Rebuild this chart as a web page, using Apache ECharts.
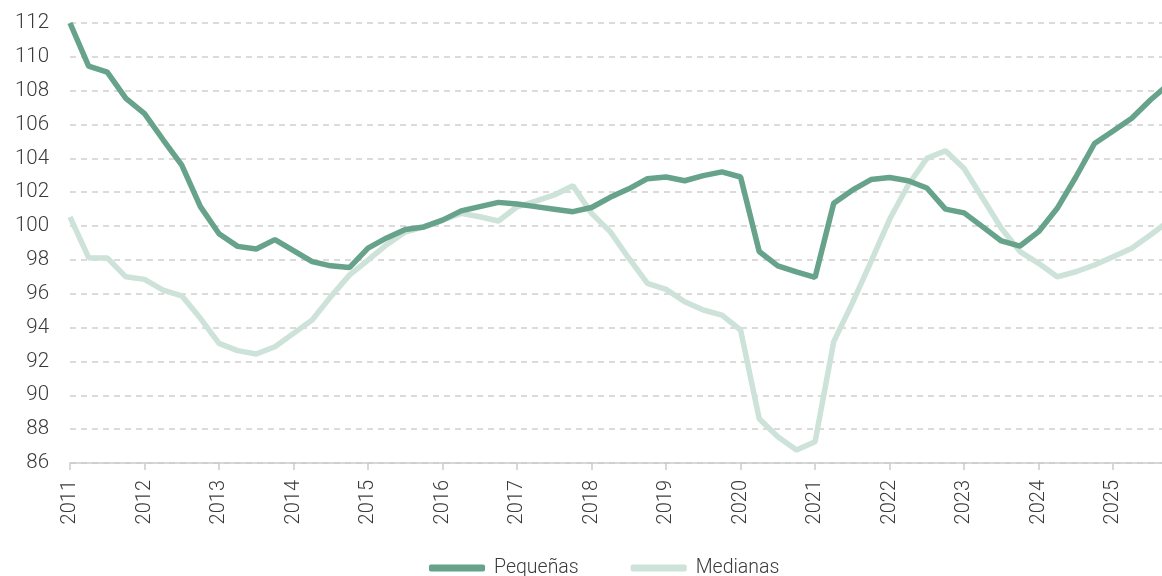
<!DOCTYPE html>
<html>
<head>
<meta charset="utf-8">
<script src="https://cdn.jsdelivr.net/npm/echarts@6/dist/echarts.min.js"></script>
<style>
  html, body { margin: 0; padding: 0; overflow: hidden; background: #fff; }
  #chart { width: 1175px; height: 576px; }
</style>
</head>
<body>
<div id="chart"></div>
<script>
// trimestres 2011-T1 .. 2025-T4
var years = ["2011", "2012", "2013", "2014", "2015", "2016", "2017", "2018",
  "2019", "2020", "2021", "2022", "2023", "2024", "2025"];
var quarters = [];
years.forEach(function (y) {
  ["T1", "T2", "T3", "T4"].forEach(function (q) { quarters.push(y + "-" + q); });
});

var pequenas = [
  112.0, 109.45, 109.1, 107.55,
  106.65, 105.1, 103.6, 101.15,
  99.55, 98.8, 98.65, 99.2,
  98.55, 97.9, 97.65, 97.55,
  98.7, 99.3, 99.8, 99.95,
  100.35, 100.9, 101.15, 101.4,
  101.3, 101.15, 101.0, 100.85,
  101.1, 101.7, 102.2, 102.8,
  102.9, 102.68, 102.98, 103.2,
  102.9, 98.5, 97.65, 97.3,
  96.97, 101.35, 102.12, 102.75,
  102.87, 102.68, 102.25, 101.0,
  100.78, 99.95, 99.12, 98.82,
  99.67, 101.05, 102.9, 104.88,
  105.62, 106.37, 107.45, 108.4
];

var medianas = [
  100.55, 98.13, 98.12, 97.0,
  96.85, 96.22, 95.88, 94.55,
  93.07, 92.64, 92.44, 92.87,
  93.66, 94.45, 95.83, 97.1,
  97.99, 98.9, 99.65, 99.95,
  100.35, 100.75, 100.55, 100.3,
  101.14, 101.48, 101.84, 102.38,
  100.75, 99.67, 98.1, 96.62,
  96.26, 95.53, 95.04, 94.74,
  93.86, 88.62, 87.55, 86.77,
  87.26, 93.17, 95.45, 97.9,
  100.4, 102.43, 104.0, 104.45,
  103.4, 101.64, 99.87, 98.49,
  97.8, 97.0, 97.3, 97.7,
  98.19, 98.69, 99.47, 100.3
];

var txt = "#3a3a3a";
var font = "Roboto";

var chart = echarts.init(document.getElementById("chart"));
chart.setOption({
  animation: false,
  grid: { left: 70, right: 6, top: 23, bottom: 113, containLabel: false },
  legend: {
    left: 424,
    top: 553,
    itemWidth: 56,
    itemHeight: 7,
    itemGap: 52,
    icon: "roundRect",
    textStyle: { fontFamily: font, fontSize: 19.5, fontWeight: 300, color: txt, padding: [0, 0, 0, 4] },
    data: ["Pequeñas", "Medianas"]
  },
  xAxis: {
    type: "category",
    boundaryGap: false,
    data: quarters,
    axisLine: { lineStyle: { color: "#cccccc", width: 1.5 } },
    axisTick: { interval: 3, length: 7, lineStyle: { color: "#cccccc", width: 1.5 } },
    axisLabel: {
      interval: 3,
      rotate: 90,
      margin: 17,
      fontFamily: font,
      fontSize: 20,
      fontWeight: 300,
      color: txt,
      formatter: function (v) { return v.slice(0, 4); }
    },
    splitLine: { show: false }
  },
  yAxis: {
    type: "value",
    min: 86,
    max: 112,
    interval: 2,
    axisLine: { show: false },
    axisTick: { show: false },
    axisLabel: { margin: 21, fontFamily: font, fontSize: 20.5, fontWeight: 300, color: txt },
    splitLine: { lineStyle: { color: "#cfcfcf", type: [6, 5], width: 1.5 } }
  },
  series: [
    {
      name: "Pequeñas",
      type: "line",
      data: pequenas,
      showSymbol: false,
      symbol: "none",
      itemStyle: { color: "#67a38b" },
      lineStyle: { color: "#67a38b", width: 5.5 },
      z: 3
    },
    {
      name: "Medianas",
      type: "line",
      data: medianas,
      showSymbol: false,
      symbol: "none",
      itemStyle: { color: "#cde2d8" },
      lineStyle: { color: "#cde2d8", width: 5.5 },
      z: 2
    }
  ]
});
</script>
</body>
</html>
